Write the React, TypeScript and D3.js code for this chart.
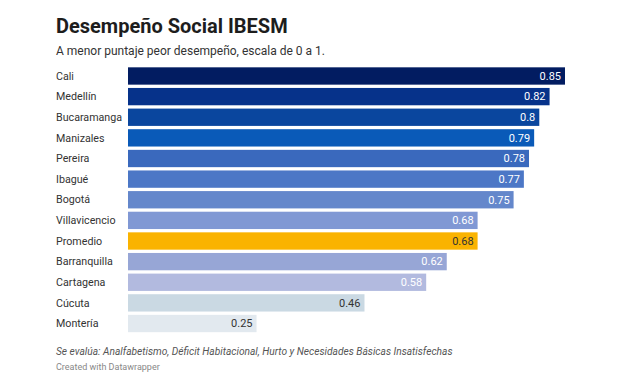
import React from "react";
import * as d3 from "d3";

const categories = ["Cali", "Medellín", "Bucaramanga", "Manizales", "Pereira", "Ibagué", "Bogotá", "Villavicencio", "Promedio", "Barranquilla", "Cartagena", "Cúcuta", "Montería"];
const values = [0.85, 0.82, 0.8, 0.79, 0.78, 0.77, 0.75, 0.68, 0.68, 0.62, 0.58, 0.46, 0.25];
const colors = ["#021c61", "#06328a", "#0a469e", "#0a5ab8", "#3a69bd", "#4c77c6", "#6487cb", "#8098d4", "#fab300", "#97a6d6", "#b2badf", "#cad9e3", "#e2e9ef"];
const darkText = [false, false, false, false, false, false, false, false, true, false, false, true, true];

const W = 626, H = 375;
const x0 = 128, x1 = 565;
const y0 = 66.5, y1 = 333;

export default function App() {
  const x = d3.scaleLinear().domain([0, 0.85]).range([x0, x1]);
  const y = d3.scaleBand().domain(categories).range([y0, y1]).paddingInner(0.16).paddingOuter(0.04);
  const font = "Roboto, 'Noto Sans', sans-serif";
  return (
    <svg width={W} height={H} style={{ position: "absolute", left: 0, top: 0, background: "#fff" }} fontFamily={font}>
      <text x={56} y={33} fontSize={20} fontWeight={700} fill="#1d1d1d">Desempeño Social IBESM</text>
      <text x={56} y={55} fontSize={12} fill="#333">A menor puntaje peor desempeño, escala de 0 a 1.</text>
      {categories.map((c, i) => {
        const yy = y(c)!;
        const bh = y.bandwidth();
        return (
          <g key={c}>
            <text x={56} y={yy + bh / 2} dy="0.35em" fontSize={10.7} fill="#333">{c}</text>
            <rect x={x(0)} y={yy} width={x(values[i]) - x(0)} height={bh} fill={colors[i]} />
            <text x={x(values[i]) - 4} y={yy + bh / 2} dy="0.35em" fontSize={11} textAnchor="end" fill={darkText[i] ? "#333" : "#fff"}>{String(values[i])}</text>
          </g>
        );
      })}
      <text x={56} y={355} fontSize={10.2} fontStyle="italic" fill="#555">Se evalúa: Analfabetismo, Déficit Habitacional, Hurto y Necesidades Básicas Insatisfechas</text>
      <text x={56} y={370} fontSize={9} fill="#888">Created with Datawrapper</text>
    </svg>
  );
}
